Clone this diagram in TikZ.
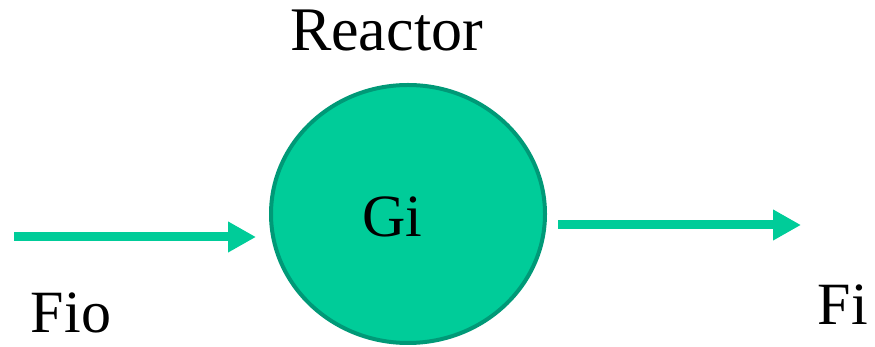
\documentclass[tikz,border=0pt]{standalone}
\usepackage{fontspec}
\setmainfont{Liberation Serif}
\usetikzlibrary{arrows.meta}
\definecolor{rfill}{HTML}{00CC99}
\definecolor{rborder}{HTML}{009977}
\tikzset{
  flow/.style={draw=rfill, line width=9pt, -{Triangle[length=28pt,width=29pt]}},
  lbl/.style={inner sep=0pt, anchor=base, font=\fontsize{60}{60}\selectfont},
}
\begin{document}
\begin{tikzpicture}[x=1pt,y=1pt]
\useasboundingbox (0,0) rectangle (875,347);
\draw[rborder, fill=rfill, line width=4pt] (408,133) ellipse [x radius=137, y radius=129];
\node[lbl] (gi) at (392,110) {Gi};
\node[lbl, font=\fontsize{62}{62}\selectfont] (reactor) at (386.5,296) {Reactor};
\node[lbl] (fio) at (71,14) {Fio};
\node[lbl] (fi) at (843,22) {Fi};
\coordinate (inS) at (14,110);
\coordinate (inE) at (256,110);
\coordinate (outS) at (558,122);
\coordinate (outE) at (801,122);
\draw[flow] (inS) -- (inE);
\draw[flow] (outS) -- (outE);
\end{tikzpicture}
\end{document}
